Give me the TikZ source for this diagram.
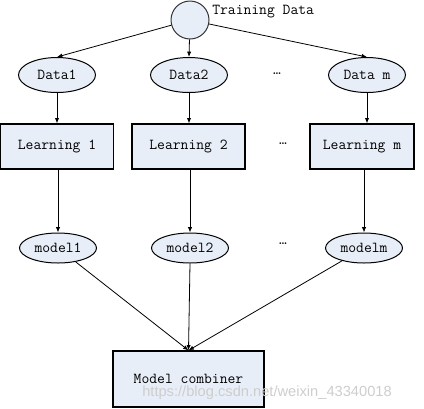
\documentclass[tikz,border=0pt]{standalone}
\usepackage{fontspec}
\newfontfamily\wmfont{Liberation Sans}
\usetikzlibrary{shapes.geometric,arrows.meta}
\definecolor{nodefill}{RGB}{232,238,248}
\definecolor{wmgray}{RGB}{205,205,205}
\tikzset{
  every node/.style={font=\fontsize{11.4}{13}\selectfont\ttfamily},
  databox/.style={ellipse,draw=black,fill=nodefill,line width=0.75pt,inner sep=0pt,minimum width=57.75pt,minimum height=26.25pt},
  modelbox/.style={ellipse,draw=black,fill=nodefill,line width=0.75pt,inner sep=0pt,minimum width=57.75pt,minimum height=22.5pt},
  learnbox/.style={rectangle,draw=black,fill=nodefill,line width=0.9pt,inner sep=0pt,minimum width=84.75pt,minimum height=33.75pt},
  srcnode/.style={circle,draw=black!80,fill=nodefill,line width=0.75pt,inner sep=0pt,minimum size=28.5pt},
  conn/.style={line width=0.6pt,-{Latex[length=4pt,width=3.2pt]}},
  dotsnode/.style={inner sep=0pt}
}
\begin{document}
\begin{tikzpicture}[x=0.75pt,y=-0.75pt]
\useasboundingbox (0,0) rectangle (424,408);
% source
\node[srcnode] (td) at (190,20) {};
\node[anchor=west,inner sep=0pt] (tdlabel) at (212,12) {Training Data};
% data
\node[databox] (d1) at (57,75) {Data1};
\node[databox] (d2) at (189,75) {Data2};
\node[databox] (dm) at (367,75) {Data m};
\node[dotsnode] (dots1) at (277,74) {\ldots};
% learning
\node[learnbox] (l1) at (57,146.5) {Learning 1};
\node[learnbox] (l2) at (188.5,146.5) {Learning 2};
\node[learnbox,minimum width=78pt] (lm) at (362,146.5) {Learning m};
\node[dotsnode] (dots2) at (283,144) {\ldots};
% models
\node[modelbox] (m1) at (58,248) {model1};
\node[modelbox] (m2) at (190,248) {model2};
\node[modelbox] (mm) at (364,248) {modelm};
\node[dotsnode] (dots3) at (283,244) {\ldots};
% combiner
\node[learnbox,minimum width=113.25pt,minimum height=42pt] (mc) at (188.5,379) {Model combiner};
% watermark
\node[anchor=west,inner sep=0pt,font=\wmfont\fontsize{11}{13}\selectfont,text=wmgray] (wm) at (142,393) {https://blog.csdn.net/weixin\_43340018};
% connectors
\draw[conn] (td) -- (d1.north);
\draw[conn] (td) -- (d2.north);
\draw[conn] (td) -- (dm.north);
\draw[conn] (d1.south) -- (d1.south |- l1.north);
\draw[conn] (d2.south) -- (d2.south |- l2.north);
\draw[conn] (dm.south) -- (dm.south |- lm.north);
\draw[conn] (m1.north |- l1.south) -- (m1.north);
\draw[conn] (m2.north |- l2.south) -- (m2.north);
\draw[conn] (mm.north |- lm.south) -- (mm.north);
\draw[conn] (m1) -- (mc.north);
\draw[conn] (m2.south) -- (mc.north);
\draw[conn] (mm) -- (mc.north);
\end{tikzpicture}
\end{document}
